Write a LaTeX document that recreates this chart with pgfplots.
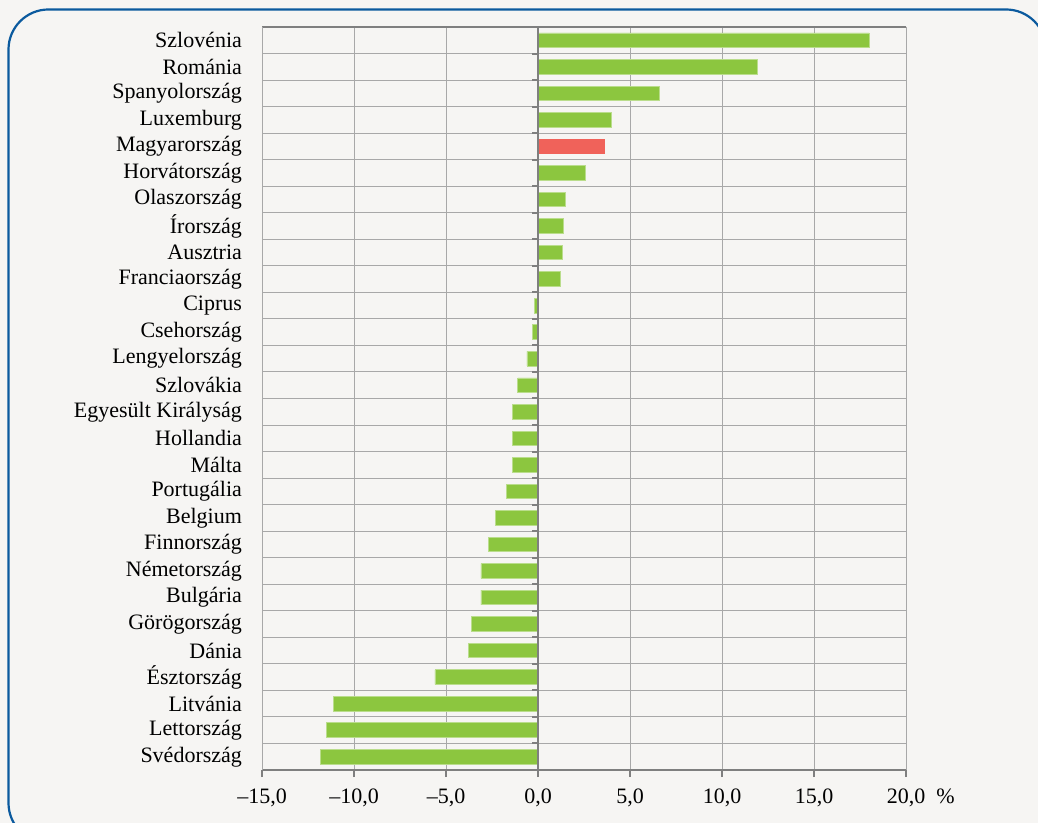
\documentclass[border=0pt]{standalone}
\usepackage{fontspec}
\setmainfont{Liberation Serif}
\usepackage{pgfplots}
\pgfplotsset{compat=1.18}

\definecolor{bgc}{HTML}{F6F5F3}
\definecolor{framec}{HTML}{0B5A9E}
\definecolor{gridc}{HTML}{A8A8A8}
\definecolor{zeroc}{HTML}{7F7F7F}
\definecolor{barg}{HTML}{8CC63F}
\definecolor{barr}{HTML}{F0625A}

\begin{document}
\begin{tikzpicture}[font=\fontsize{11}{13.2}\selectfont]
\useasboundingbox (0,0) rectangle (519pt,411.5pt);
\clip (0,0) rectangle (519pt,411.5pt);
\fill[bgc] (0,0) rectangle (519pt,411.5pt);
\draw[framec, line width=1.1pt, rounded corners=20pt] (4.25pt,-10pt) rectangle (523pt,406.75pt);

\begin{axis}[
    at={(131pt,26.5pt)}, anchor=south west,
    scale only axis,
    width=322pt, height=371.5pt,
    xmin=-15, xmax=20,
    ymin=-0.5, ymax=27.5,
    y dir=reverse,
    separate axis lines,
    x axis line style={draw=zeroc, line width=0.6pt},
    y axis line style={draw=gridc, line width=0.5pt},
    xtick={-15,-10,-5,0,5,10,15,20},
    xticklabels={{–15,0},{–10,0},{–5,0},{0,0},{5,0},{10,0},{15,0},{20,0}},
    xtick pos=lower,
    tick align=outside,
    major tick length=3.5pt,
    x tick style={draw=zeroc, line width=0.6pt},
    xmajorgrids=true,
    major grid style={draw=gridc, line width=0.5pt},
    ytick={0,...,27},
    yticklabels={Szlovénia, Románia, Spanyolország, Luxemburg, Magyarország,
        Horvátország, Olaszország, Írország, Ausztria, Franciaország, Ciprus,
        Csehország, Lengyelország, Szlovákia, Egyesült Királyság, Hollandia,
        Málta, Portugália, Belgium, Finnország, Németország, Bulgária,
        Görögország, Dánia, Észtország, Litvánia, Lettország, Svédország},
    ytick pos=left,
    y tick style={draw=none},
    minor ytick={-0.5,0.5,...,27.5},
    yminorgrids=true,
    minor grid style={draw=gridc, line width=0.5pt},
    minor tick length=0pt,
    yticklabel style={xshift=-3pt},
    xticklabel style={yshift=-2.5pt},
]
\addplot[xbar, bar width=7.3pt, bar shift=0pt, fill=barg, draw=barg!60!white, line width=0.4pt]
coordinates {
    (18.0,0) (11.9,1) (6.6,2) (4.0,3)
    (2.6,5) (1.5,6) (1.4,7) (1.3,8) (1.2,9)
    (-0.2,10) (-0.3,11) (-0.6,12) (-1.1,13) (-1.4,14) (-1.4,15) (-1.4,16)
    (-1.7,17) (-2.3,18) (-2.7,19) (-3.1,20) (-3.1,21) (-3.6,22) (-3.8,23)
    (-5.6,24) (-11.1,25) (-11.5,26) (-11.8,27)
};
\addplot[xbar, bar width=7.3pt, bar shift=0pt, fill=barr, draw=barr, line width=0.4pt]
coordinates {(3.6,4)};
\draw[zeroc, line width=0.9pt] (axis cs:0,-0.5) -- (axis cs:0,27.5);
\pgfplotsinvokeforeach{-0.5,0.5,...,27.5}{
    \draw[zeroc, line width=1pt] (axis cs:0,#1) -- ++(-3pt,0pt);
}
\end{axis}
\node[anchor=base west, inner sep=0pt] at (468pt,9.5pt) {\%};
\end{tikzpicture}
\end{document}
